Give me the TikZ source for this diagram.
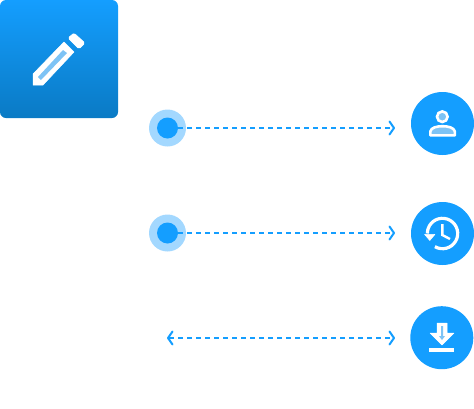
\documentclass[tikz,border=0pt]{standalone}
\usepackage{tikz}
\usetikzlibrary{arrows.meta}
\definecolor{primaryblue}{RGB}{20,158,255}
\definecolor{darkblue}{RGB}{10,122,196}
\definecolor{haloblue}{RGB}{163,216,255}
\definecolor{glyphblue}{RGB}{125,195,245}

\begin{document}
\begin{tikzpicture}[
    x=1pt, y=-1pt,
    card/.style={rectangle, minimum size=118pt, inner sep=0pt, rounded corners=6pt, top color=primaryblue, bottom color=darkblue},
    halo/.style={circle, fill=haloblue, minimum size=37pt, inner sep=0pt},
    dot/.style={circle, fill=primaryblue, minimum size=21pt, inner sep=0pt},
    badge/.style={circle, fill=primaryblue, minimum size=63pt, inner sep=0pt},
    link/.style={dash pattern=on 5pt off 4pt, line width=1.6pt, primaryblue},
    barb/.tip={Straight Barb[length=4.5pt, width=13pt, line width=2pt, round]},
    tipr/.style={link, -barb},
    tiplr/.style={link, barb-barb},
    glyph/.style={fill=white, draw=white, line width=0.5pt, line join=round},
    inset/.style={fill=glyphblue},
    stroke/.style={draw=white, line width=2.6pt}
]
\useasboundingbox (0,0) rectangle (474,408);

% card with pencil
\node[card] (edit) at (59,59) {};
\path[glyph] (33,85) -- (33,74) -- (64,42) -- (74,52) -- (43,85) -- cycle;
\fill[inset] (38,77) -- (63,50) -- (67,53) -- (41,80) -- cycle;
\path[glyph, rounded corners=1.5pt] (74,33) -- (68,38) -- (79,49) -- (85,43) -- cycle;

% left dots
\node[halo] (halo1) at (167.5,128) {};
\node[dot] (dot1) at (167.5,128) {};
\node[halo] (halo2) at (167.5,233) {};
\node[dot] (dot2) at (167.5,233) {};

% right badges
\node[badge] (user) at (442.5,123.5) {};
\node[badge] (history) at (442.5,233.5) {};
\node[badge] (download) at (441.8,337.7) {};

% connector ends
\coordinate (end1) at (395,128);
\coordinate (end2) at (395,233);
\coordinate (start3) at (167,338);
\coordinate (end3) at (395,338);

\draw[tipr] (dot1.east) -- (end1);
\draw[tipr] (dot2.east) -- (end2);
\draw[tiplr] (start3) -- (end3);

% user icon
\path[stroke, fill=glyphblue] (442.3,116.7) circle (5.3);
\path[stroke, fill=glyphblue, line join=round] (430.3,135.4) -- (430.3,131.5) .. controls (431,127.5) and (437,126.2) .. (442.5,126.2) .. controls (448,126.2) and (454,127.5) .. (454.9,131.5) -- (454.9,135.4) -- cycle;

% history icon
\draw[stroke, line width=3.2pt] ([shift={(120:15.2)}]history.center) arc (120:-180:15.2);
\path[glyph] (424.5,234.3) -- (435,234.3) -- (429.8,240.5) -- cycle;
\draw[white, line width=2.4pt] (442.3,224) -- (442.3,235) -- (450,239);

% download icon
\path[glyph] (437,323) -- (447,323) -- (447,333) -- (454,333) -- (442,345) -- (430,333) -- (437,333) -- cycle;
\fill[inset] (441,326) -- (443,326) -- (443,336) -- (445,336) -- (442,340) -- (439,336) -- (441,336) -- cycle;
\fill[white] (429.3,348.3) rectangle (454.3,351.7);
\end{tikzpicture}
\end{document}
